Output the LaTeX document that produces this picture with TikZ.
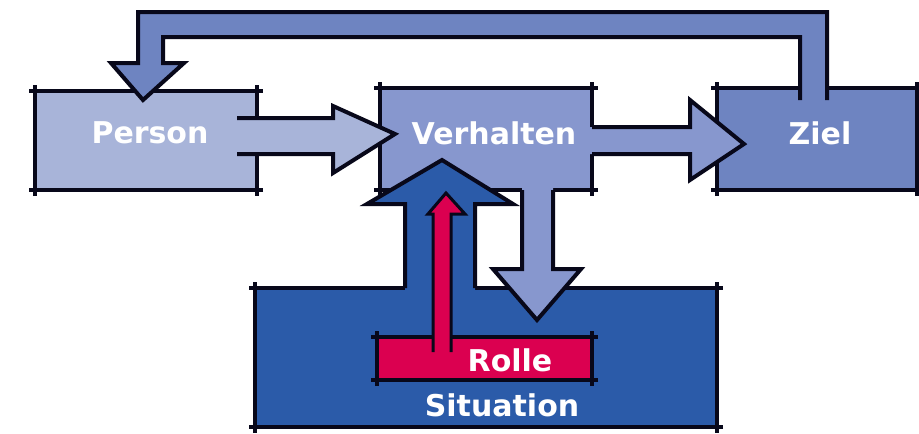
\documentclass[tikz,border=0pt]{standalone}
\usepackage{fontspec}
\setmainfont{DejaVu Sans}
\definecolor{pcol}{HTML}{A8B4D9}
\definecolor{vcol}{HTML}{8797CE}
\definecolor{zcol}{HTML}{6E84C1}
\definecolor{scol}{HTML}{2B5BA9}
\definecolor{rcol}{HTML}{DB0050}
\definecolor{ink}{HTML}{08081A}
\newcommand\skbox[2][6pt]{%
 \draw[outline, shorten <=-#1, shorten >=-#1] (#2.north west) -- (#2.north east);
 \draw[outline, shorten <=-#1, shorten >=-#1] (#2.north east) -- (#2.south east);
 \draw[outline, shorten <=-#1, shorten >=-#1] (#2.south east) -- (#2.south west);
 \draw[outline, shorten <=-#1, shorten >=-#1] (#2.south west) -- (#2.north west);}
\begin{document}
\begin{tikzpicture}[x=1pt,y=-1pt,
  box/.style={inner sep=0pt, outer sep=0pt, draw=none},
  outline/.style={draw=ink, line width=4pt, line cap=butt, line join=miter},
  lbl/.style={text=white, font=\fontsize{30}{30}\selectfont\bfseries, inner sep=0pt}]
\useasboundingbox[fill=white] (0,0) rectangle (919,434);
% boxes
\node[box, fill=pcol, minimum width=222pt, minimum height=99pt] (person) at (146,140.5) {};
\node[box, fill=vcol, minimum width=212pt, minimum height=102pt] (verh) at (486,139) {};
\node[box, fill=zcol, minimum width=200pt, minimum height=102pt] (ziel) at (817,139) {};
\node[box, fill=scol, minimum width=462pt, minimum height=139pt] (sit) at (486,357.5) {};
\skbox{person}
\skbox{verh}
\skbox{ziel}
\skbox{sit}
% Person -> Verhalten
\fill[pcol] (237,118) -- (333,118) -- (333,106) -- (395,134) -- (333,173) -- (333,154) -- (237,154) -- cycle;
\draw[outline] (237,118) -- (333,118) -- (333,106) -- (395,134) -- (333,173) -- (333,154) -- (237,154);
% Verhalten -> Ziel
\fill[vcol] (580,127) -- (690,127) -- (690,100) -- (744,144) -- (690,180) -- (690,154) -- (580,154) -- cycle;
\draw[outline] (592,127) -- (690,127) -- (690,100) -- (744,144) -- (690,180) -- (690,154) -- (592,154);
% feedback Ziel -> Person
\fill[zcol] (800,104) -- (800,37) -- (163,37) -- (163,63) -- (184,63) -- (143,100) -- (111,63) -- (138,63) -- (138,12) -- (827,12) -- (827,104) -- cycle;
\draw[outline] (800,100) -- (800,37) -- (163,37) -- (163,63) -- (184,63) -- (143,100) -- (111,63) -- (138,63) -- (138,12) -- (827,12) -- (827,100);
% Verhalten -> Situation (down)
\fill[vcol] (522,178) -- (522,269) -- (493,269) -- (537,320) -- (581,269) -- (553,269) -- (553,178) -- cycle;
\draw[outline] (522,190) -- (522,269) -- (493,269) -- (537,320) -- (581,269) -- (553,269) -- (553,190);
% Situation -> Verhalten (up)
\fill[scol] (405,298) -- (405,204) -- (367,204) -- (442,160) -- (513,204) -- (475,204) -- (475,298) -- cycle;
\draw[outline] (405,288) -- (405,204) -- (367,204) -- (442,160) -- (513,204) -- (475,204) -- (475,288);
% Rolle
\node[box, fill=rcol, minimum width=215pt, minimum height=43pt] (rolle) at (484.5,358.5) {};
\skbox{rolle}
% Rolle -> Verhalten (red)
\fill[rcol] (433,352) -- (433,214) -- (428,214) -- (446,193) -- (465,214) -- (451,214) -- (451,352) -- cycle;
\draw[outline, line width=3pt] (433,352) -- (433,214) -- (428,214) -- (446,193) -- (465,214) -- (451,214) -- (451,352);
% labels
\node[lbl] (tperson) at (150,133) {Person};
\node[lbl] (tverh) at (494,133) {Verhalten};
\node[lbl] (tziel) at (820,133) {Ziel};
\node[lbl] (trolle) at (510,360) {Rolle};
\node[lbl] (tsit) at (502,405) {Situation};
\end{tikzpicture}
\end{document}
